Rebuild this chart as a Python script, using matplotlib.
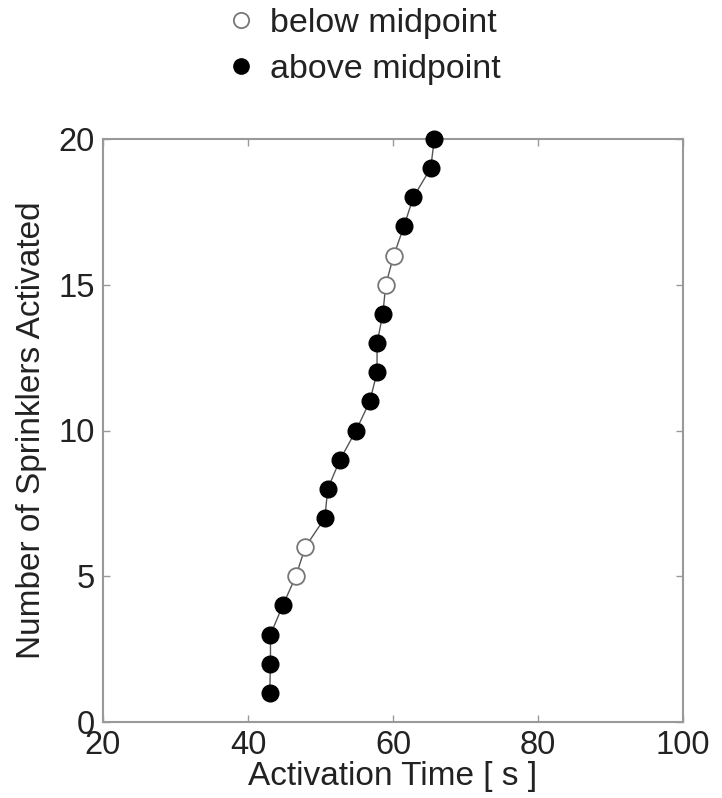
import numpy as np
import matplotlib
matplotlib.use("Agg")
import matplotlib.pyplot as plt
from matplotlib.lines import Line2D

plt.rcParams['font.family'] = ['Liberation Sans', 'DejaVu Sans']

# activation times [s] for each sprinkler, in order of activation
act_time = [43.0, 43.1, 43.1, 44.8, 46.6, 47.9, 50.6, 51.0, 52.7, 54.9,
            56.8, 57.8, 57.8, 58.6, 59.0, 60.1, 61.5, 62.8, 65.2, 65.7]
n_activated = list(range(1, 21))
# True = below midpoint (open marker), False = above midpoint (filled)
below_mid = [False, False, False, False, True, True, False, False, False, False,
             False, False, False, False, True, True, False, False, False, False]

x_ticks = [20, 40, 60, 80, 100]
y_ticks = [0, 5, 10, 15, 20]

t = np.array(act_time)
n = np.array(n_activated)
b = np.array(below_mid)

fig = plt.figure(figsize=(7.22, 7.98), dpi=100)
ax = fig.add_axes([103/722, 1 - 722/798, 580/722, 583/798])

ax.plot(t, n, color='#555555', linewidth=1.0, zorder=2, clip_on=False)
ax.plot(t[~b], n[~b], linestyle='none', marker='o', markersize=12,
        markerfacecolor='black', markeredgecolor='black', zorder=3, clip_on=False)
ax.plot(t[b], n[b], linestyle='none', marker='o', markersize=12,
        markerfacecolor='white', markeredgecolor='#777777', markeredgewidth=1.3,
        zorder=3, clip_on=False)

ax.set_xlim(20, 100)
ax.set_ylim(0, 20)
ax.set_xticks(x_ticks)
ax.set_yticks(y_ticks)
ax.tick_params(direction='in', top=True, right=True, length=5, width=1,
               color='#999999', labelsize=23.5, labelcolor='#222222', pad=6)
for s in ax.spines.values():
    s.set_color('#999999')
    s.set_linewidth(1.5)

ax.set_xlabel("Activation Time [ s ]", fontsize=24, color='#222222', labelpad=0)
ax.set_ylabel("Number of Sprinklers Activated", fontsize=24, color='#222222', labelpad=8)

handles = [
    Line2D([], [], linestyle='none', marker='o', markersize=11,
           markerfacecolor='white', markeredgecolor='#777777', markeredgewidth=1.3),
    Line2D([], [], linestyle='none', marker='o', markersize=11,
           markerfacecolor='black', markeredgecolor='black'),
]
fig.legend(handles, ["below midpoint", "above midpoint"], loc='upper center',
           bbox_to_anchor=(0.5, 1.028), frameon=False, fontsize=24.5,
           handletextpad=0.25, handlelength=1.2, labelspacing=0.43,
           labelcolor='#222222')

fig.savefig("out.png", dpi=100)
